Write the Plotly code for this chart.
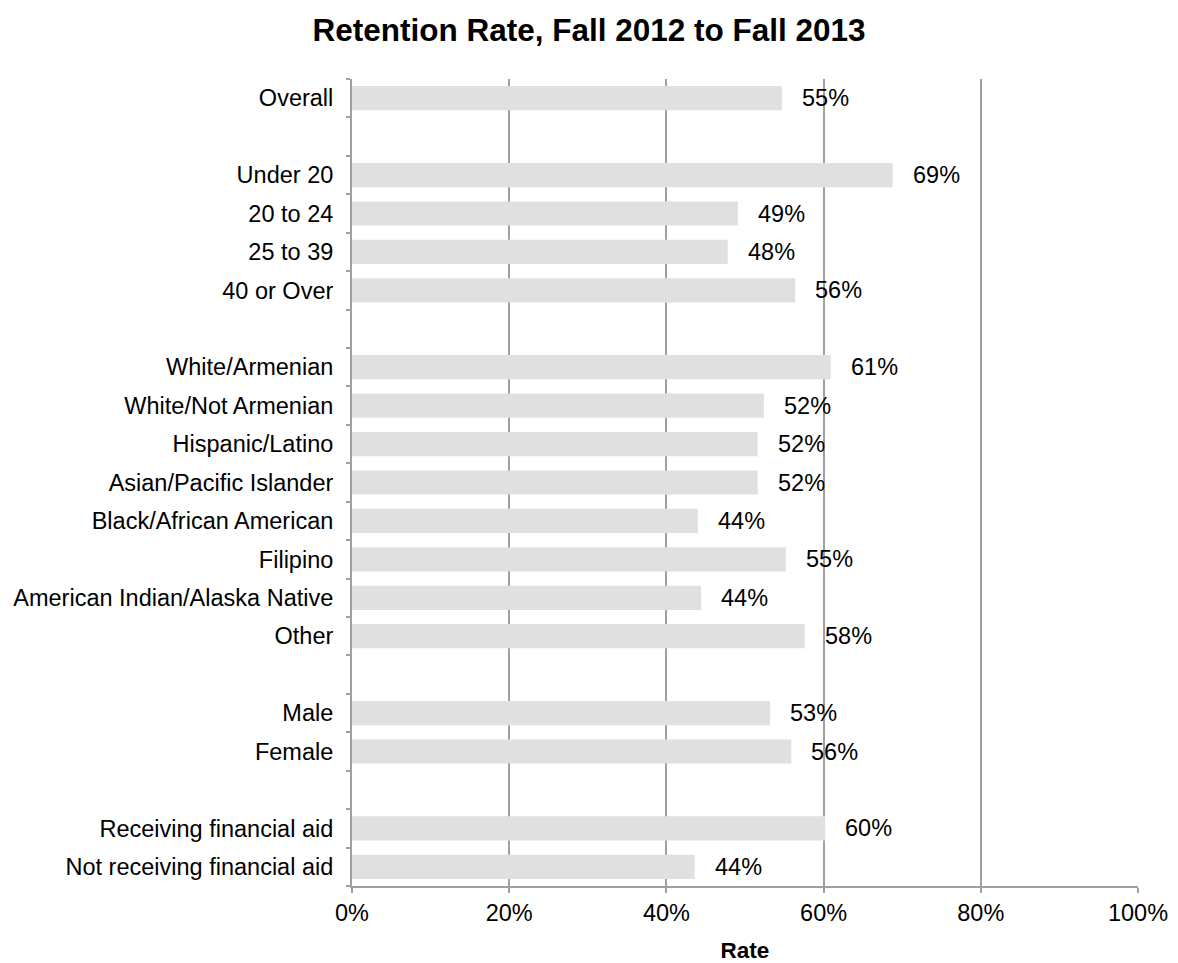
import plotly.graph_objects as go

categories = [
    "Overall", "",
    "Under 20", "20 to 24", "25 to 39", "40 or Over", "",
    "White/Armenian", "White/Not Armenian", "Hispanic/Latino", "Asian/Pacific Islander",
    "Black/African American", "Filipino", "American Indian/Alaska Native", "Other", "",
    "Male", "Female", "",
    "Receiving financial aid", "Not receiving financial aid",
]
values = [
    54.7, None,
    68.8, 49.1, 47.8, 56.4, None,
    60.9, 52.4, 51.6, 51.6, 44.0, 55.2, 44.4, 57.6, None,
    53.2, 55.9, None,
    60.2, 43.6,
]
labels = [
    "55%", "",
    "69%", "49%", "48%", "56%", "",
    "61%", "52%", "52%", "52%", "44%", "55%", "44%", "58%", "",
    "53%", "56%", "",
    "60%", "44%",
]
x_tickvals = [0, 20, 40, 60, 80, 100]
x_ticktext = ["0%", "20%", "40%", "60%", "80%", "100%"]

pos = list(range(len(categories)))
FONT = "Liberation Sans, Arial, Helvetica, sans-serif"
GRID = "#a0a0a0"
FS = 23.5

fig = go.Figure()
fig.add_trace(go.Bar(
    x=values, y=pos, orientation="h",
    marker=dict(color="#e0e0e0", line=dict(width=0)),
    width=0.63, hoverinfo="skip",
))

for p, v, t in zip(pos, values, labels):
    if v is None:
        continue
    fig.add_annotation(x=v, y=p, text=t, showarrow=False, xanchor="left",
                       xshift=18, font=dict(family=FONT, size=FS, color="black"))

fig.update_layout(
    width=1178, height=963,
    margin=dict(l=352, r=40, t=79, b=77),
    paper_bgcolor="white", plot_bgcolor="white",
    showlegend=False,
    font=dict(family=FONT, size=FS, color="black"),
    title=dict(text="<b>Retention Rate, Fall 2012 to Fall 2013</b>",
               x=0.5, xref="container", xanchor="center",
               y=1 - 30 / 963, yref="container", yanchor="middle",
               font=dict(family=FONT, size=31.5, color="black")),
)

fig.update_xaxes(
    range=[0, 100], tickvals=x_tickvals, ticktext=x_ticktext,
    showgrid=True, gridcolor=GRID, gridwidth=2,
    zeroline=False, automargin=False,
    showline=True, linecolor=GRID, linewidth=2,
    ticks="outside", ticklen=5, tickwidth=2, tickcolor=GRID,
    tickfont=dict(family=FONT, size=FS, color="black"),
    title=dict(text="<b>Rate</b>", font=dict(family=FONT, size=FS - 1, color="black"), standoff=22),
    fixedrange=True,
)
fig.update_yaxes(
    range=[len(categories) - 0.5, -0.5],
    tickmode="array", tickvals=pos, ticktext=categories,
    showgrid=False, zeroline=False, automargin=False,
    showline=True, linecolor=GRID, linewidth=2,
    ticks="outside", ticklen=12, tickcolor="rgba(0,0,0,0)",
    tickfont=dict(family=FONT, size=FS, color="black"),
    minor=dict(tickmode="array", tickvals=[p - 0.5 for p in pos] + [len(categories) - 0.5],
               ticks="outside", ticklen=4, tickwidth=2, tickcolor=GRID, showgrid=False),
    fixedrange=True,
)

fig.write_html("out.html", config={"displayModeBar": False},
               post_script="document.body.style.margin='0';")
